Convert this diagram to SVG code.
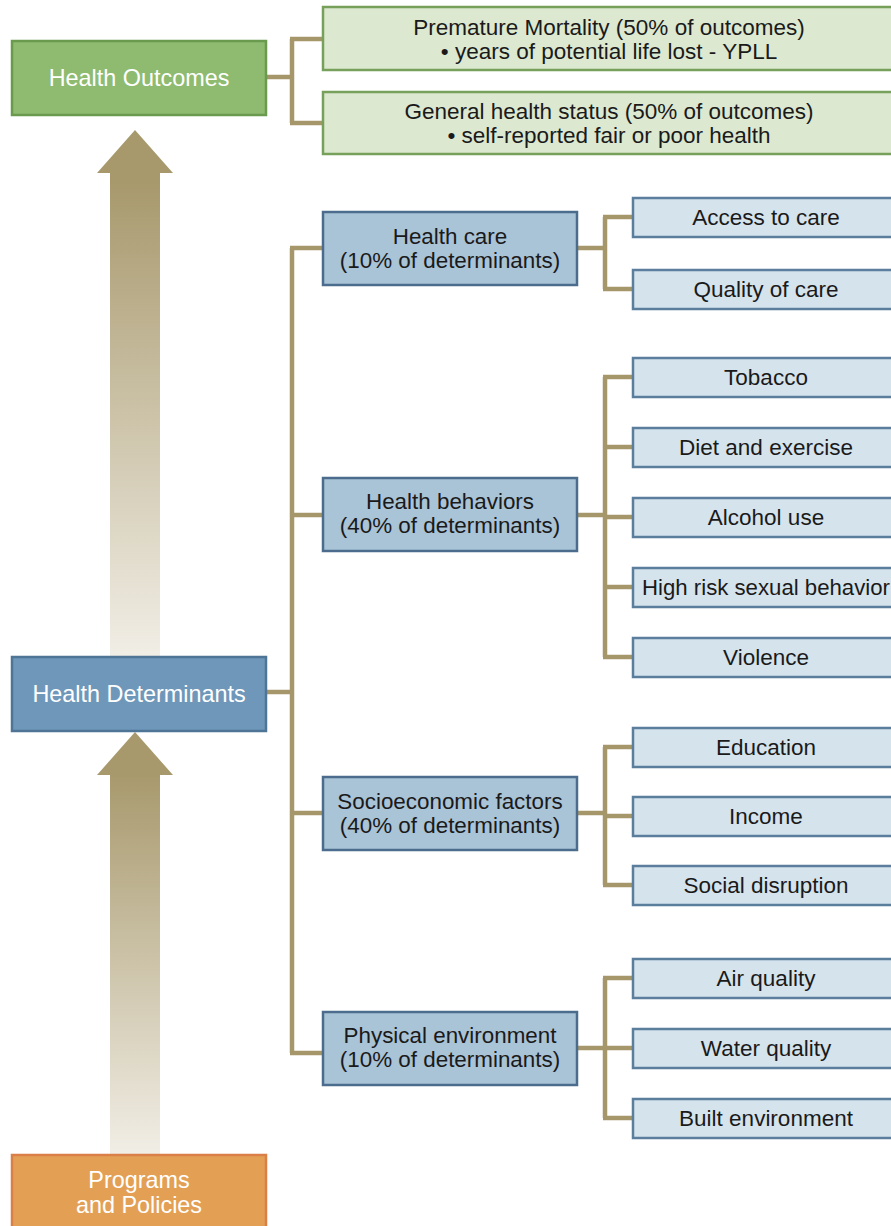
<svg xmlns="http://www.w3.org/2000/svg" width="891" height="1226" viewBox="0 0 891 1226">
<style>
text{font-family:"Liberation Sans",Arial,sans-serif;text-anchor:middle;fill:#1a1a1a}
.w{fill:#ffffff;font-size:23.4px}
.o{font-size:22.5px}
.m{font-size:22.4px}
.l{font-size:22.5px}
.ob{fill:#dce8d0;stroke:#77a05a;stroke-width:2.5}
.mb{fill:#a9c3d7;stroke:#4b6c8c;stroke-width:2.5}
.lb{fill:#d5e3ed;stroke:#5a7e9c;stroke-width:2.5}
.c{fill:none;stroke:#a6976b;stroke-width:4.5}
</style>
<defs>
<linearGradient id="ag" x1="0" y1="0" x2="0" y2="1">
<stop offset="0" stop-color="#a8996d"/>
<stop offset="0.1" stop-color="#a8996d"/>
<stop offset="1" stop-color="#f1eee6"/>
</linearGradient>
</defs>
<g id="arrows">
<polygon points="135,130 97,173 110,173 110,657 160,657 160,173 173,173" fill="url(#ag)"/>
<polygon points="135,732 97,775 110,775 110,1155 160,1155 160,775 173,775" fill="url(#ag)"/>
</g>
<g id="connectors">
<path class="c" d="M266,77 H292 M292,39 V123 M290,39 H323 M290,123 H323"/>
<path class="c" d="M266,692 H292 M292,248 V1053 M290,248 H323 M290,515 H323 M290,813 H323 M290,1053 H323"/>
<path class="c" d="M577,248 H605 M605,217 V289 M603,217 H633 M603,289 H633"/>
<path class="c" d="M577,515 H605 M605,377 V657 M603,377 H633 M603,447 H633 M603,517 H633 M603,587 H633 M603,657 H633"/>
<path class="c" d="M577,813 H605 M605,747 V885 M603,747 H633 M603,816 H633 M603,885 H633"/>
<path class="c" d="M577,1048 H605 M605,978 V1118 M603,978 H633 M603,1048 H633 M603,1118 H633"/>
</g>
<g id="health-outcomes"><rect x="12" y="41" width="254" height="74" fill="#8ebb6f" stroke="#6a9a4d" stroke-width="2.5"/><text class="w" x="139" y="86">Health Outcomes</text></g>
<g id="premature-mortality"><rect class="ob" x="323" y="7" width="580" height="63"/><text class="o" x="609" y="35">Premature Mortality (50% of outcomes)</text><text class="o" x="609" y="59">• years of potential life lost - YPLL</text></g>
<g id="general-health"><rect class="ob" x="323" y="92" width="580" height="62"/><text class="o" x="609" y="119">General health status (50% of outcomes)</text><text class="o" x="609" y="143">• self-reported fair or poor health</text></g>
<g id="health-determinants"><rect x="12" y="657" width="254" height="74" fill="#6f97b9" stroke="#4e7596" stroke-width="2.5"/><text class="w" x="139" y="702">Health Determinants</text></g>
<g id="programs-policies"><rect x="12" y="1155" width="254" height="80" fill="#e3a055" stroke="#da7f47" stroke-width="2.5"/><text class="w" x="139" y="1188">Programs</text><text class="w" x="139" y="1213">and Policies</text></g>
<g id="health-care"><rect class="mb" x="323" y="212" width="254" height="73"/><text class="m" x="450" y="244">Health care</text><text class="m" x="450" y="268">(10% of determinants)</text></g>
<g id="health-behaviors"><rect class="mb" x="323" y="478" width="254" height="73"/><text class="m" x="450" y="509">Health behaviors</text><text class="m" x="450" y="533">(40% of determinants)</text></g>
<g id="socioeconomic"><rect class="mb" x="323" y="777" width="254" height="73"/><text class="m" x="450" y="809">Socioeconomic factors</text><text class="m" x="450" y="833">(40% of determinants)</text></g>
<g id="physical-environment"><rect class="mb" x="323" y="1012" width="254" height="73"/><text class="m" x="450" y="1043">Physical environment</text><text class="m" x="450" y="1067">(10% of determinants)</text></g>
<g id="access-to-care"><rect class="lb" x="633" y="198" width="270" height="39"/><text class="l" x="766" y="225">Access to care</text></g>
<g id="quality-of-care"><rect class="lb" x="633" y="270" width="270" height="39"/><text class="l" x="766" y="297">Quality of care</text></g>
<g id="tobacco"><rect class="lb" x="633" y="358" width="270" height="39"/><text class="l" x="766" y="385">Tobacco</text></g>
<g id="diet-exercise"><rect class="lb" x="633" y="428" width="270" height="39"/><text class="l" x="766" y="455">Diet and exercise</text></g>
<g id="alcohol-use"><rect class="lb" x="633" y="498" width="270" height="39"/><text class="l" x="766" y="525">Alcohol use</text></g>
<g id="high-risk"><rect class="lb" x="633" y="568" width="270" height="39"/><text class="l" x="766" y="595" style="font-size:22.2px">High risk sexual behavior</text></g>
<g id="violence"><rect class="lb" x="633" y="638" width="270" height="39"/><text class="l" x="766" y="665">Violence</text></g>
<g id="education"><rect class="lb" x="633" y="728" width="270" height="39"/><text class="l" x="766" y="755">Education</text></g>
<g id="income"><rect class="lb" x="633" y="797" width="270" height="39"/><text class="l" x="766" y="824">Income</text></g>
<g id="social-disruption"><rect class="lb" x="633" y="866" width="270" height="39"/><text class="l" x="766" y="893">Social disruption</text></g>
<g id="air-quality"><rect class="lb" x="633" y="959" width="270" height="39"/><text class="l" x="766" y="986">Air quality</text></g>
<g id="water-quality"><rect class="lb" x="633" y="1029" width="270" height="39"/><text class="l" x="766" y="1056">Water quality</text></g>
<g id="built-environment"><rect class="lb" x="633" y="1099" width="270" height="39"/><text class="l" x="766" y="1126">Built environment</text></g>
</svg>
